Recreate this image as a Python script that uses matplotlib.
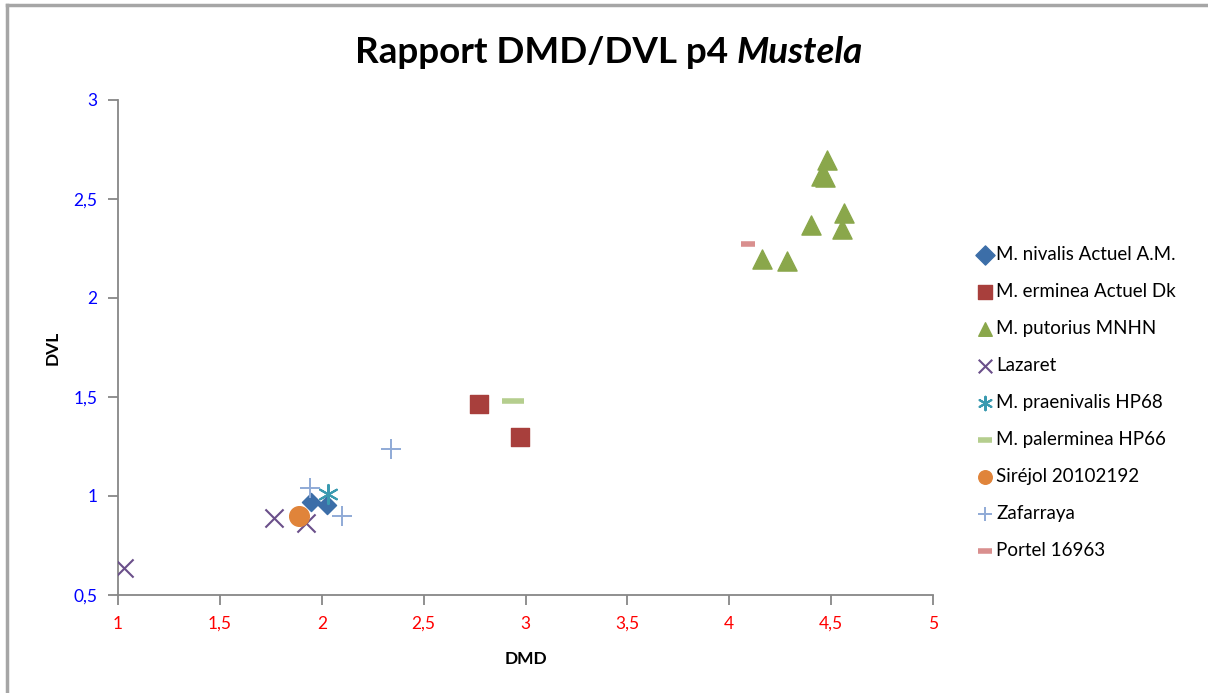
import matplotlib.pyplot as plt
from matplotlib.lines import Line2D

plt.rcParams['font.family'] = ['Lato', 'DejaVu Sans']

# data (DMD, DVL)
nivalis_x = [1.945, 2.025]
nivalis_y = [0.971, 0.955]
erminea_x = [2.773, 2.973]
erminea_y = [1.465, 1.300]
putorius_x = [4.481, 4.450, 4.471, 4.563, 4.551, 4.400, 4.162, 4.281]
putorius_y = [2.697, 2.616, 2.610, 2.428, 2.347, 2.367, 2.197, 2.189]
lazaret_x = [1.028, 1.766, 1.921]
lazaret_y = [0.638, 0.889, 0.862]
praenivalis_x = [2.032]
praenivalis_y = [1.010]
palerminea_x = [2.940]
palerminea_y = [1.480]
sirejol_x = [1.890]
sirejol_y = [0.899]
zafarraya_x = [1.942, 2.100, 2.340]
zafarraya_y = [1.039, 0.899, 1.237]
portel_x = [4.090]
portel_y = [2.271]

xticks = [1, 1.5, 2, 2.5, 3, 3.5, 4, 4.5, 5]
yticks = [0.5, 1, 1.5, 2, 2.5, 3]

fig = plt.figure(figsize=(12.08, 6.93), dpi=100)
ax = fig.add_axes([118/1208, 1-595/693, (933-118)/1208, (595-100)/693])

ax.scatter(nivalis_x, nivalis_y, marker='D', s=85, color='#3C6EA8', label='M. nivalis Actuel A.M.', zorder=3)
ax.scatter(erminea_x, erminea_y, marker='s', s=165, color='#A83F3C', label='M. erminea Actuel Dk', zorder=3)
ax.scatter(putorius_x, putorius_y, marker='^', s=190, color='#8AA74B', label='M. putorius MNHN', zorder=3)
ax.scatter(lazaret_x, lazaret_y, marker='x', s=170, color='#6A4F8A', linewidths=1.5, label='Lazaret', zorder=3)
ax.scatter(praenivalis_x, praenivalis_y, marker=(6, 2, 0), s=190, color='#3A9AB0', linewidths=1.5, label='M. praenivalis HP68', zorder=3)
ax.scatter(palerminea_x, palerminea_y, marker='_', s=260, color='#B5CE8E', linewidths=4, label='M. palerminea HP66', zorder=3)
ax.scatter(sirejol_x, sirejol_y, marker='o', s=200, color='#E0843A', label='Siréjol 20102192', zorder=3)
ax.scatter(zafarraya_x, zafarraya_y, marker='+', s=200, color='#8FAAD6', linewidths=1.4, label='Zafarraya', zorder=3)
ax.scatter(portel_x, portel_y, marker='_', s=90, color='#D98F8E', linewidths=4, label='Portel 16963', zorder=3)

ax.set_xlim(1, 5)
ax.set_ylim(0.5, 3)
ax.set_xticks(xticks)
ax.set_yticks(yticks)
ax.set_xticklabels([('%g' % v).replace('.', ',') for v in xticks], color='red', fontsize=12.5)
ax.set_yticklabels([('%g' % v).replace('.', ',') for v in yticks], color='blue', fontsize=12.5)
ax.tick_params(direction='out', length=7, width=1.3, color='#878787', pad=8)
for s in ['top', 'right']:
    ax.spines[s].set_visible(False)
for s in ['left', 'bottom']:
    ax.spines[s].set_color('#878787')
    ax.spines[s].set_linewidth(1.3)
ax.set_xlabel('DMD', fontsize=12.5, fontweight='bold', labelpad=14)
ax.set_ylabel('DVL', fontsize=12.5, fontweight='bold', labelpad=9)

leg = ax.legend(loc='upper left', bbox_to_anchor=(1.0 + 35/815, 1 - 138/495), frameon=False,
                fontsize=13.5, labelspacing=1.07, handletextpad=0.1, handlelength=1.0,
                scatterpoints=1, borderaxespad=0)
for h in leg.legend_handles:
    h.set_sizes([95])

# title, bold part + italic part
t1 = fig.text(355/1208, 1-63/693, 'Rapport DMD/DVL p4 ', fontsize=26.5, fontweight='bold', va='baseline', ha='left')
fig.canvas.draw()
bb = t1.get_window_extent()
fig.text(bb.x1/1208, 1-63/693, 'Mustela', fontsize=26.5, fontweight='bold', style='italic', va='baseline', ha='left')

# outer chart border
fig.add_artist(Line2D([7/1208, 7/1208], [0, 1-5/693], color='#A6A6A6', lw=2.5))
fig.add_artist(Line2D([7/1208, 1], [1-5/693, 1-5/693], color='#A6A6A6', lw=2.5))

fig.savefig('out.png', dpi=100)
